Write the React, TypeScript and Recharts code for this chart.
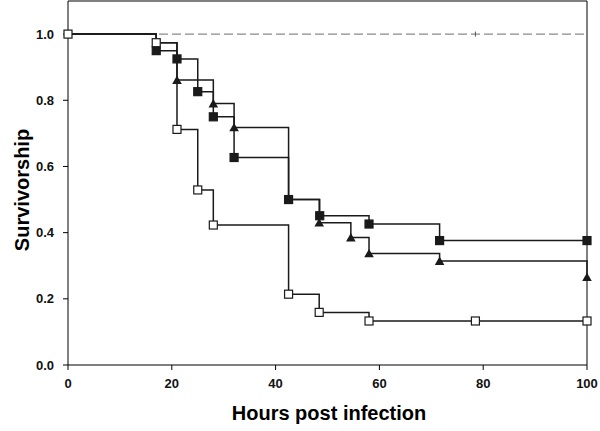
import React from 'react';
import { Label, Line, LineChart, ReferenceLine, XAxis, YAxis } from 'recharts';

// survival curves (hours, fraction surviving)
const openHours = [0, 17, 21, 25, 28, 42.5, 48.4, 58, 78.5, 100];
const openSurv = [1, 0.974, 0.712, 0.529, 0.423, 0.214, 0.159, 0.133, 0.133, 0.133];

const filledHours = [0, 17, 21, 25, 28, 32, 42.5, 48.5, 58, 71.6, 100];
const filledSurv = [1, 0.95, 0.925, 0.826, 0.75, 0.627, 0.5, 0.451, 0.426, 0.376, 0.376];

const triHours = [0, 17, 21, 28, 32, 42.5, 48.4, 54.5, 58, 71.6, 100];
const triSurv = [1, 0.974, 0.861, 0.79, 0.718, 0.5, 0.43, 0.385, 0.337, 0.314, 0.265];

const controlHours = [0, 78.5, 100];
const controlSurv = [1, 1, 1];

const xTicks = [0, 20, 40, 60, 80, 100];
const yTicks = [0, 0.2, 0.4, 0.6, 0.8, 1.0];

const toRows = (hours: number[], surv: number[]) => hours.map((t, i) => ({ t, s: surv[i] }));

const openData = toRows(openHours, openSurv);
const filledData = toRows(filledHours, filledSurv);
const triData = toRows(triHours, triSurv);
const controlData = toRows(controlHours, controlSurv);

const font = '"Liberation Sans", Arial, sans-serif';
const ink = '#1a1a1a';

// markers hidden where another series' marker sits on top in the original
const squareDot = (fill: string, hide: number[]) => (props: any) => {
  const { cx, cy, index } = props;
  if (hide.includes(index) || cx == null) return <g key={`d${index}`} />;
  return (
    <rect key={`d${index}`} x={cx - 4} y={cy - 4} width={8} height={8} fill={fill} stroke={ink} strokeWidth={1.2} />
  );
};

const triangleDot = (hide: number[]) => (props: any) => {
  const { cx, cy, index } = props;
  if (hide.includes(index) || cx == null) return <g key={`d${index}`} />;
  return (
    <path key={`d${index}`} d={`M${cx},${cy - 4.5} L${cx + 4.8},${cy + 3.8} L${cx - 4.8},${cy + 3.8} Z`} fill={ink} />
  );
};

const censorTick = (props: any) => {
  const { cx, cy, index } = props;
  if (index !== 1 || cx == null) return <g key={`c${index}`} />;
  return <line key={`c${index}`} x1={cx} x2={cx} y1={cy - 2.5} y2={cy + 2.5} stroke="#555" strokeWidth={1} />;
};

const tickStyle = { fill: '#111', fontSize: 13, fontWeight: 'bold', fontFamily: font };

export default function App() {
  return (
    <div style={{ position: 'absolute', left: 0, top: 0, background: '#fff' }}>
      <LineChart width={600} height={431} margin={{ top: 1, right: 13, left: 0, bottom: 0 }}>
        <XAxis
          dataKey="t"
          type="number"
          domain={[0, 100]}
          ticks={xTicks}
          tickSize={5}
          tickMargin={9}
          height={66}
          axisLine={{ stroke: '#000' }}
          tickLine={{ stroke: '#000' }}
          tick={tickStyle}
        >
          <Label
            content={() => (
              <text x={329} y={413} textAnchor="middle" dominantBaseline="central" fontFamily={font} fontWeight="bold" fontSize={20} fill="#000">
                Hours post infection
              </text>
            )}
          />
        </XAxis>
        <YAxis
          type="number"
          domain={[0, 1.1]}
          ticks={yTicks}
          tickFormatter={(v: number) => v.toFixed(1)}
          tickSize={5}
          tickMargin={9}
          width={68}
          axisLine={{ stroke: '#000' }}
          tickLine={{ stroke: '#000' }}
          tick={tickStyle}
        >
          <Label
            content={() => (
              <text x={22} y={190} transform="rotate(-90, 22, 190)" textAnchor="middle" dominantBaseline="central" fontFamily={font} fontWeight="bold" fontSize={20} fill="#000">
                Survivorship
              </text>
            )}
          />
        </YAxis>
        <ReferenceLine y={1.1} stroke="#000" strokeWidth={1} />
        <ReferenceLine x={100} stroke="#000" strokeWidth={1} />
        <Line data={controlData} dataKey="s" type="linear" stroke="#8a8a8a" strokeWidth={1.3} strokeDasharray="9 4" dot={censorTick} isAnimationActive={false} />
        <Line data={triData} dataKey="s" type="stepAfter" stroke={ink} strokeWidth={1.5} dot={triangleDot([0, 1])} activeDot={false} isAnimationActive={false} />
        <Line data={filledData} dataKey="s" type="stepAfter" stroke={ink} strokeWidth={1.5} dot={squareDot(ink, [0])} activeDot={false} isAnimationActive={false} />
        <Line data={openData} dataKey="s" type="stepAfter" stroke={ink} strokeWidth={1.5} dot={squareDot('#fff', [])} activeDot={false} isAnimationActive={false} />
      </LineChart>
    </div>
  );
}
